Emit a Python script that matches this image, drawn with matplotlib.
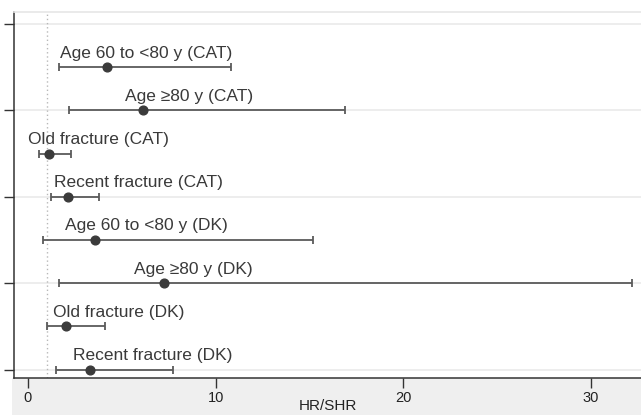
import matplotlib
matplotlib.use("Agg")
import matplotlib.pyplot as plt
from matplotlib.patches import Rectangle

plt.rcParams['font.family'] = ['Liberation Sans', 'DejaVu Sans']

# Hazard ratios with 95% confidence intervals
labels = [
    "Age 60 to <80 y (CAT)",
    "Age \u226580 y (CAT)",
    "Old fracture (CAT)",
    "Recent fracture (CAT)",
    "Age 60 to <80 y (DK)",
    "Age \u226580 y (DK)",
    "Old fracture (DK)",
    "Recent fracture (DK)",
]
hr = [4.21, 6.13, 1.12, 2.15, 3.57, 7.25, 2.01, 3.32]
ci_low = [1.67, 2.18, 0.60, 1.24, 0.82, 1.65, 1.03, 1.49]
ci_high = [10.8, 16.9, 2.27, 3.78, 15.2, 32.2, 4.10, 7.71]
# left edge of each text label, in HR units
label_left = [1.70, 5.17, 0.0, 1.39, 1.97, 5.65, 1.33, 2.40]

xticks = [0, 10, 20, 30]
yticks = [0, 2, 4, 6, 8]

W, H = 641, 417
fig = plt.figure(figsize=(W / 100, H / 100), dpi=100)
fig.patch.set_facecolor("white")

ax_l, ax_r, ax_t, ax_b = 14, 641, 12, 378
ax = fig.add_axes([ax_l / W, 1 - ax_b / H, (ax_r - ax_l) / W, (ax_b - ax_t) / H])
ax.set_facecolor("white")

# light grey band around the plot region
fig.patches.append(Rectangle((12 / W, 2 / H), 1 - 12 / W, (H - ax_b - 2) / H,
                             transform=fig.transFigure, facecolor="#efefef",
                             edgecolor="none", zorder=-1))

pos = list(range(1, len(labels) + 1))

for y in yticks:
    ax.axhline(y, color="#ececec", lw=1.3, zorder=0)

ax.axvline(1, color="#b8b8b8", lw=1.0, ls=(0, (1, 2)), zorder=1)

ax.errorbar(hr, pos,
            xerr=[[h - l for h, l in zip(hr, ci_low)],
                  [u - h for h, u in zip(hr, ci_high)]],
            fmt="o", color="#3b3b3b", ms=6.3, ecolor="#5a5a5a",
            elinewidth=1.3, capsize=3.2, capthick=1.3, zorder=3)

for lab, x, y in zip(labels, label_left, pos):
    ax.text(x, y - 0.22, lab, fontsize=12.5, color="#3a3a3a",
            ha="left", va="baseline", zorder=4)

ax.set_xlim((ax_l - 28) / 18.77, (ax_r - 28) / 18.77)
ax.set_ylim((ax_b - 24) / 43.2, (ax_t - 24) / 43.2)

ax.set_xticks(xticks)
ax.set_xticklabels([str(t) for t in xticks])
ax.set_yticks(yticks)
ax.set_yticklabels([])
ax.tick_params(axis="x", length=7, width=1.0, color="#333333",
               labelsize=10.5, labelcolor="#222222", pad=2)
ax.tick_params(axis="y", length=7, width=1.0, color="#333333")

ax.set_xlabel("HR/SHR", fontsize=11, color="#222222")
ax.xaxis.set_label_coords(0.5, -0.058)

for s in ["left", "bottom"]:
    ax.spines[s].set_color("#333333")
    ax.spines[s].set_linewidth(1.1)
ax.spines["top"].set_color("#e6e6e6")
ax.spines["top"].set_linewidth(1.2)
ax.spines["right"].set_visible(False)

fig.savefig("out.png", dpi=100)
